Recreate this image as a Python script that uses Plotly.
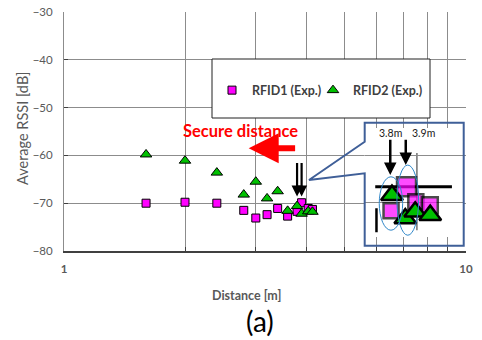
import numpy as np
import plotly.graph_objects as go

# ---------------- data ----------------
distance = [1.6, 2.0, 2.4, 2.8, 3.0, 3.2, 3.4, 3.6, 3.8, 3.9, 4.05, 4.15]
rfid1 = [-70.0, -69.8, -70.0, -71.5, -73.1, -72.4, -71.1, -72.7, -71.7, -69.9, -71.1, -71.3]
rfid2 = [-59.8, -61.1, -63.6, -68.2, -65.5, -69.0, -67.5, -71.6, -70.6, -72.2, -71.7, -71.8]

# magnified inset (zoomed picture of the 3.8 m - 4.1 m cluster)
inset_sq_x = [3.80, 3.90, 3.96, 4.05]
inset_sq_y = [-71.65, -66.63, -69.77, -70.46]
inset_sq_size = [15, 19, 15, 16]
inset_tri_x = [3.806, 3.892, 3.956, 4.053]
inset_tri_y = [-68.37, -73.24, -71.86, -72.55]

x_ticks = [1, 2, 3, 4, 5, 6, 7, 8, 9, 10]
x_ticktext = ["1", "", "", "", "", "", "", "", "", "10"]
y_ticks = [-80, -70, -60, -50, -40, -30]

secure_arrow = dict(tip=2.88, tail=3.79, y=-58.5)
marked_dist = [3.8, 3.9]

W, H = 482, 340
L, R, T, B = 64, 16, 12, 89
PW, PH = W - L - R, H - T - B


def px(x):  # pixel x -> paper fraction
    return (x - L) / PW


def py(y):  # pixel y -> paper fraction
    return (H - B - y) / PH


MAG = "#FF00FF"
GRN = "#00C000"
GRID = "#8c8c8c"
FONT = "Lato"

fig = go.Figure()
fig.add_trace(go.Scatter(
    x=distance, y=rfid1, mode="markers", name="RFID1 (Exp.)", legend="legend",
    marker=dict(symbol="square", size=8, color=MAG, line=dict(color="black", width=1)),
    cliponaxis=False))
fig.add_trace(go.Scatter(
    x=distance, y=rfid2, mode="markers", name="RFID2 (Exp.)", legend="legend2",
    marker=dict(symbol="triangle-up", size=10, color=GRN, line=dict(color="black", width=1)),
    cliponaxis=False))

# inset traces
fig.add_trace(go.Scatter(
    x=inset_sq_x, y=inset_sq_y, mode="markers", xaxis="x2", yaxis="y2", showlegend=False,
    marker=dict(symbol="square", size=inset_sq_size, color=MAG, line=dict(color="black", width=2.5)),
    cliponaxis=False))
fig.add_trace(go.Scatter(
    x=inset_tri_x, y=inset_tri_y, mode="markers", xaxis="x2", yaxis="y2", showlegend=False,
    marker=dict(symbol="triangle-up", size=19, color=GRN, line=dict(color="black", width=2.5)),
    cliponaxis=False))

shapes = []
# legend box
shapes.append(dict(type="rect", xref="paper", yref="paper",
                   x0=px(212), x1=px(430), y0=py(118), y1=py(59),
                   fillcolor="white", line=dict(color="#202020", width=1), layer="above"))
# inset frame with callout
pts = [(364.7, 141.7), (309, 180), (364.7, 173.3), (364.7, 245.7),
       (463.7, 245.7), (463.7, 122.7), (364.7, 122.7)]
path = "M " + " L ".join("{:.4f},{:.4f}".format(px(a), py(b)) for a, b in pts) + " Z"
shapes.append(dict(type="path", xref="paper", yref="paper", path=path,
                   line=dict(color="#3F5F98", width=2), layer="above"))
# inset decorations (magnified grid fragments)
shapes.append(dict(type="line", xref="x2", yref="y2", x0=3.698, x1=4.193, y0=-66.63, y1=-66.63,
                   line=dict(color="black", width=3), layer="below"))
shapes.append(dict(type="line", xref="x2", yref="y2", x0=3.967, x1=3.967, y0=-59.58, y1=-75.69,
                   line=dict(color="#707070", width=1.5), layer="below"))
shapes.append(dict(type="line", xref="x2", yref="y2", x0=3.706, x1=3.706, y0=-71.09, y1=-76.11,
                   line=dict(color="black", width=2.5), layer="below"))
# ellipses around the 3.8 m / 3.9 m points
shapes.append(dict(type="circle", xref="x2", yref="y2", x0=3.724, x1=3.875, y0=-64.54, y1=-75.69,
                   line=dict(color="#2E86C8", width=1), layer="above"))
shapes.append(dict(type="circle", xref="x2", yref="y2", x0=3.838, x1=3.978, y0=-62.09, y1=-76.74,
                   line=dict(color="#2E86C8", width=1), layer="above"))

annotations = []
C = dict(xanchor="center", yanchor="middle", showarrow=False, xref="paper", yref="paper")
# axis titles and caption
annotations.append(dict(text="Average RSSI [dB]", x=px(22), y=py(128), textangle=-90,
                        font=dict(family=FONT, size=14.5, color="#595959"), **C))
annotations.append(dict(text="<b>Distance [m]</b>", x=px(246), y=py(295),
                        font=dict(family=FONT, size=12.5, color="#595959"), **C))
annotations.append(dict(text="(a)", x=px(260), y=py(321),
                        font=dict(family=FONT, size=28, color="black"), **C))
# secure distance
annotations.append(dict(text="<b>Secure distance</b>", x=px(240), y=py(131),
                        font=dict(family=FONT, size=16.5, color="#FF0000"), **C))
annotations.append(dict(text="", x=np.log10(secure_arrow["tip"]), y=secure_arrow["y"],
                        ax=np.log10(secure_arrow["tail"]), ay=secure_arrow["y"], xref="x", yref="y",
                        axref="x", ayref="y", showarrow=True, arrowhead=2, arrowsize=1.0,
                        arrowwidth=6, arrowcolor="#FF0000", standoff=0, startstandoff=0))
# black arrows at 3.8 m and 3.9 m
for d in marked_dist:
    annotations.append(dict(text="", x=np.log10(d), y=-68.6, ax=np.log10(d), ay=-61.3,
                            xref="x", yref="y", axref="x", ayref="y", showarrow=True,
                            arrowhead=2, arrowsize=1, arrowwidth=2.2, arrowcolor="black"))
# inset arrows and labels
for d, tip, lx in zip(marked_dist, [-64.18, -62.09], [3.795, 4.011]):
    annotations.append(dict(text="", x=d - 0.005, y=tip, ax=d - 0.005, ay=-56.5,
                            xref="x2", yref="y2", axref="x2", ayref="y2", showarrow=True,
                            arrowhead=2, arrowsize=1, arrowwidth=2.5, arrowcolor="black"))
    annotations.append(dict(text=f"{d}m", x=lx, y=-55.33, xref="x2", yref="y2", showarrow=False,
                            xanchor="center", yanchor="middle",
                            font=dict(family=FONT, size=10.5, color="#202020")))

legend_font = dict(family=FONT, size=12.5, color="#404040", weight="bold")
fig.update_layout(
    width=W, height=H, margin=dict(l=L, r=R, t=T, b=B, autoexpand=False),
    paper_bgcolor="white", plot_bgcolor="white",
    font=dict(family=FONT, color="#595959"),
    xaxis=dict(type="log", range=[0, 1], tickvals=x_ticks, ticktext=x_ticktext, automargin=False,
               showgrid=True, gridcolor=GRID, gridwidth=1, zeroline=False,
               showline=True, linecolor="#404040", linewidth=1.5, ticklabeloverflow="allow",
               ticks="inside", ticklen=4, tickcolor="#404040", ticklabelstandoff=6,
               tickfont=dict(family=FONT, size=11.5, color="#595959", weight="bold")),
    yaxis=dict(range=[-80, -30], tickvals=y_ticks, showgrid=True, gridcolor=GRID, gridwidth=1,
               zeroline=False, showline=True, linecolor=GRID, linewidth=1, automargin=False,
               ticks="inside", ticklen=4, tickcolor="#404040", ticklabelstandoff=8,
               ticklabeloverflow="allow",
               tickfont=dict(family=FONT, size=11.5, color="#595959")),
    xaxis2=dict(domain=[px(364.7), px(463.7)], anchor="y2", range=[3.630, 4.269], automargin=False,
                showgrid=False, zeroline=False, showline=False, showticklabels=False, ticks=""),
    yaxis2=dict(domain=[py(237), py(128)], anchor="x2", range=[-77.11, -54.35], tickvals=[-70, -60],
                showgrid=True, gridcolor=GRID, gridwidth=1, zeroline=False, showline=False,
                showticklabels=False, ticks="", automargin=False),
    legend=dict(orientation="h", x=px(212), y=py(90.5), xanchor="left", yanchor="middle",
                xref="paper", yref="paper", bgcolor="rgba(0,0,0,0)", font=legend_font),
    legend2=dict(orientation="h", x=px(313), y=py(90.5), xanchor="left", yanchor="middle",
                 xref="paper", yref="paper", bgcolor="rgba(0,0,0,0)", font=legend_font),
    shapes=shapes, annotations=annotations,
)

fig.write_html("out.html", config={"displayModeBar": False},
               post_script="document.body.style.margin='0px';")
